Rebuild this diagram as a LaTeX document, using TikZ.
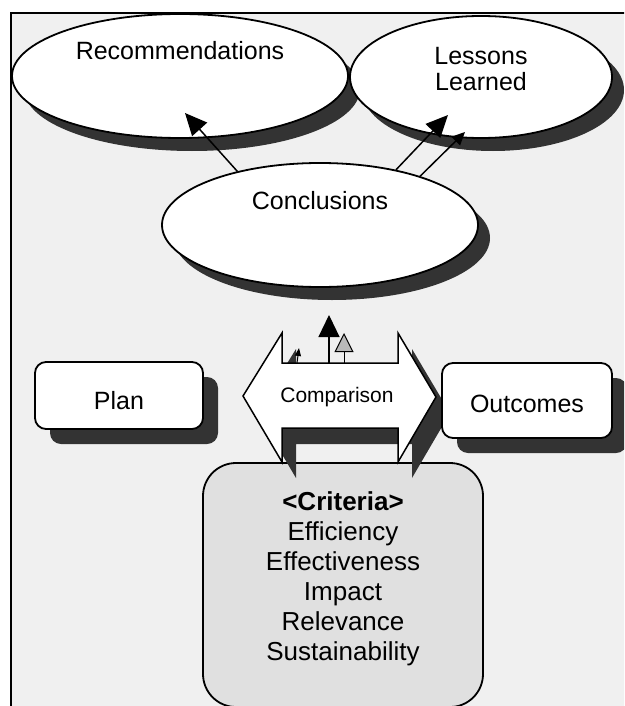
\documentclass[tikz,border=0pt]{standalone}
\usepackage{fontspec}
\setmainfont{Liberation Sans}
\usetikzlibrary{shapes.geometric,shadows,arrows.meta}

\begin{document}
\begin{tikzpicture}[x=1pt,y=-1pt,
    darkshadow/.style 2 args={drop shadow={shadow xshift=#1, shadow yshift=-#2, fill=black!80, opacity=1}},
    bubble/.style={ellipse, draw, line width=1.8pt, fill=white, inner sep=0pt, darkshadow={12pt}{13pt}},
    roundbox/.style={rectangle, rounded corners=11pt, draw, line width=1.8pt, fill=white,
      darkshadow={15pt}{15pt}},
    lbl/.style={font={\fontsize{25}{26}\selectfont}, inner sep=0pt, align=center},
    flow/.style={line width=1.5pt, -{Triangle[length=22pt,width=20pt]}}]

  \useasboundingbox (0,0) rectangle (624,706);
  \clip (0,0) rectangle (624,706);

  % frame with stippled background
  \fill[white] (0,0) rectangle (624,706);
  \draw[line width=2pt, fill=gray!12] (11,13) rectangle (650,730);

  % criteria panel
  \node[draw, line width=1.8pt, rounded corners=33pt, fill=gray!24,
        minimum width=280pt, minimum height=244pt] (crit) at (343,585) {};
  \node[lbl, font={\fontsize{26}{30}\selectfont}] (crittxt) at (343,579)
    {\textbf{<Criteria>}\\Efficiency\\Effectiveness\\Impact\\Relevance\\Sustainability};

  % double arrow for the comparison
  \draw[line width=1.5pt, fill=white, darkshadow={14pt}{16pt}]
    (243,396) -- (282,333) -- (282,363) -- (398,363) -- (398,333) -- (436,397)
    -- (398,462) -- (398,428) -- (282,428) -- (282,462) -- cycle;
  \node[lbl, font={\fontsize{21}{24}\selectfont}] (cmp) at (337,397) {Comparison};

  % plan and outcomes
  \node[roundbox, minimum width=168pt, minimum height=67pt] (plan) at (119,395.5) {};
  \node[lbl] (plantxt) at ([yshift=-5pt]plan.center) {Plan};
  \node[roundbox, minimum width=170pt, minimum height=75pt] (out) at (527,400.5) {};
  \node[lbl] (outtxt) at ([yshift=-3pt]out.center) {Outcomes};

  % ellipses
  \node[bubble, minimum width=336pt, minimum height=124pt] (rec) at (180,76) {};
  \node[lbl] (rectxt) at ([yshift=25pt]rec.center) {Recommendations};
  \node[bubble, minimum width=262pt, minimum height=122pt] (less) at (481,77) {};
  \node[lbl] (lesstxt) at ([yshift=8pt]less.center) {Lessons\\Learned};
  \node[bubble, minimum width=316pt, minimum height=124pt] (conc) at (320,225) {};
  \node[lbl] (conctxt) at ([yshift=24pt]conc.center) {Conclusions};

  % arrows from the conclusions
  \coordinate (rtip) at (185,113);
  \coordinate (ltip) at (448,115);
  \coordinate (ltip2) at (465,132);
  \draw[flow] (conc.147) -- (rtip);
  \draw[flow] (conc.36) -- (ltip);
  \draw[line width=1.5pt, -{Triangle[length=13pt,width=12pt]}] (conc.26) -- (ltip2);

  % arrows up from the comparison
  \coordinate (up1) at (329,363);
  \coordinate (up1tip) at (329,315);
  \coordinate (up2) at (344,363);
  \coordinate (up2tip) at (344,333);
  \coordinate (up3) at (297,363);
  \coordinate (up3tip) at (299,348);
  \draw[line width=1.2pt, -{Triangle[length=22pt,width=21pt]}] (up1) -- (up1tip);
  \draw[line width=1pt, -{Triangle[length=19pt,width=19pt,fill=gray!55]}] (up2) -- (up2tip);
  \draw[line width=1pt, -{Triangle[length=8pt,width=6pt]}] (up3) -- (up3tip);

\end{tikzpicture}
\end{document}
